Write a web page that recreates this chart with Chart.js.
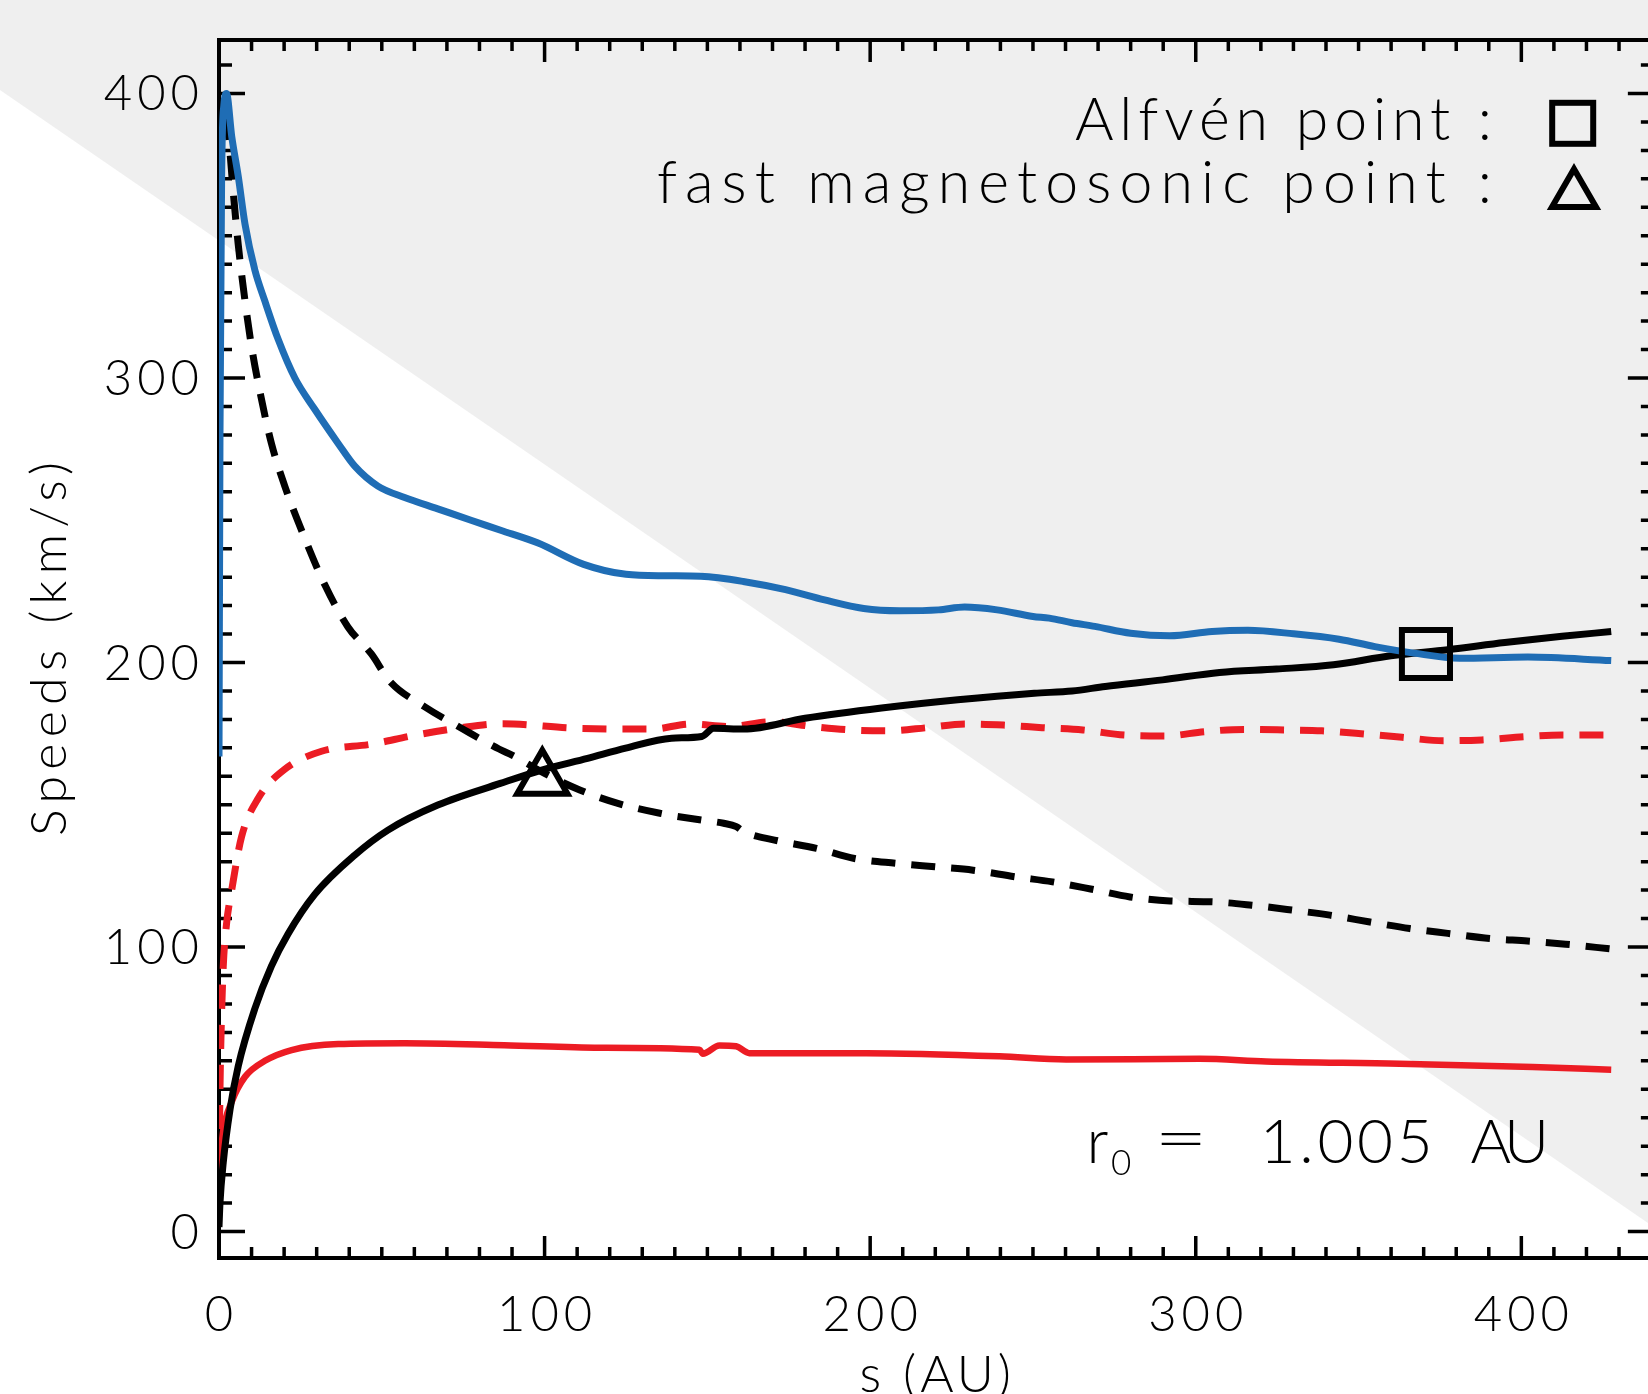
<!DOCTYPE html>
<html>
<head>
<meta charset="utf-8">
<script src="https://cdn.jsdelivr.net/npm/chart.js@4/dist/chart.umd.min.js"></script>
<style>
  html, body { margin: 0; padding: 0; background: #ffffff; overflow: hidden; }
  canvas { display: block; }
</style>
</head>
<body>
<canvas id="c" width="1648" height="1394"></canvas>
<script>
// ---------------- data ----------------
const xTickValues = [0, 100, 200, 300, 400];
const yTickValues = [0, 100, 200, 300, 400];

// blue solid
const blueS = [0, 0.3, 0.8, 1.5, 2.3, 3.9, 5.9, 8.0, 11.0, 14.1, 18.2, 23.3, 29.4, 36.6, 41.7, 48.8, 57.0, 67.2, 77.4, 86.5, 98, 112, 125, 137, 148, 161, 174, 186, 198, 209, 221, 229, 239, 250, 255, 262, 269, 280, 292, 305, 316, 330, 344, 355, 367, 381, 402, 427.6];
const blueV = [167, 280, 370, 396, 400, 385, 371, 354, 338, 327, 313.5, 300, 289, 277, 269, 262, 258, 254, 250, 246.5, 242, 234.5, 231, 230.5, 230.3, 228.5, 225.6, 222, 219, 218.2, 218.5, 219.5, 218.5, 216.2, 215.6, 214, 212.7, 210.3, 209.4, 210.9, 211.3, 210.1, 208.2, 205.6, 203.3, 201.5, 201.9, 200.7];

// black solid
const blackS = [0, 0.3, 1.3, 3.4, 5.9, 11.0, 16.1, 21.2, 29.4, 41.7, 51.9, 67.2, 86.4, 99.1, 113.2, 124.9, 139, 148.3, 151.9, 161.2, 180, 203.5, 226.9, 250.4, 262, 272.2, 289.8, 307.3, 324.8, 342.3, 359.9, 377.4, 394.9, 412.5, 427.6];
const blackV = [1.6, 10, 24.2, 43, 58.1, 78.3, 93.3, 104.6, 118.5, 132.3, 141.1, 149.9, 157.5, 162.2, 166.3, 169.9, 173.4, 174, 176.9, 176.6, 180.4, 184, 186.9, 189.2, 190, 191.6, 193.9, 196.5, 197.7, 199.2, 202.4, 204.5, 207, 209.2, 210.9];

// black dashed
const blackDashS = [1.8, 2.9, 4.4, 5.9, 8.0, 10.0, 12.6, 16.1, 20.2, 26.4, 32.5, 39.6, 46.8, 52.4, 63.1, 75.4, 86, 90.3, 100, 110.8, 122.5, 135.4, 148.3, 155, 158.9, 161.2, 170.6, 183.5, 195.2, 208.2, 219.9, 231.6, 244.5, 256, 267.7, 279.8, 292.1, 305, 317.2, 329.5, 341.2, 353.5, 365.7, 377.4, 390.3, 401.9, 413.6, 427.6];
const blackDashV = [392, 385, 365, 347, 327, 311, 295, 277, 262, 243.5, 227.3, 212.5, 203, 193.5, 184.5, 176.3, 169.6, 167.3, 161, 155.2, 150.5, 147, 144.6, 143.5, 142.3, 140.5, 137.6, 134.7, 131.1, 129.4, 128.2, 127, 124.7, 122.9, 120.4, 117.6, 116.2, 115.9, 114.7, 113, 111.2, 108.8, 106.5, 104.8, 103, 102.1, 101, 99.3];

// red dashed
const redDashS = [0, 0.3, 0.6, 1.3, 2.3, 3.9, 6.9, 12.1, 20.2, 31.5, 46.8, 60, 73.3, 87, 109.6, 133, 144.8, 156.6, 169.5, 182.3, 194, 205.8, 217.5, 229.3, 241, 252.8, 265.3, 278.1, 290.9, 302.6, 314.9, 327.2, 338.8, 351.7, 363.4, 376.2, 387.9, 400.8, 412.5, 427.6];
const redDashV = [22, 50, 68, 93, 108, 120, 138.6, 152.4, 162.5, 168.8, 171.3, 174.4, 176.9, 178.5, 176.9, 176.6, 178.4, 177.5, 179.2, 177.5, 176.3, 176, 177.1, 178.4, 178, 177.1, 176.3, 174.5, 174.2, 175.7, 176.5, 176.3, 176, 174.9, 173.7, 172.5, 172.8, 173.9, 174.5, 174.5];

// red solid
const redS = [0, 1.3, 3.9, 8.0, 14.1, 22.3, 36.6, 57, 87.6, 116.9, 147.6, 148.6, 153.7, 158.8, 162.9, 198.8, 239.7, 260.2, 301.2, 321.6, 362.6, 403.5, 427.6];
const redV = [21.7, 35.5, 45.6, 54.4, 60, 63.8, 65.9, 66.2, 65.5, 64.6, 63.9, 62.5, 65.4, 65.1, 62.7, 62.7, 61.6, 60.5, 60.7, 59.8, 59, 57.8, 56.9];

// critical points
const alfvenS = [370.7];
const alfvenV = [203];
const fastS = [99.3];
const fastV = [159];

// axis extent (the right-hand axis lies just beyond the picture edge)
const xMin = 0, xMax = 438.9, xFrameMax = 440.7;
const yMin = -9.3, yMax = 418.8;

// texts
const xTitle = 's (AU)';
const yTitle = 'Speeds (km/s)';
const legendLines = ['Alfvén point :', 'fast magnetosonic point :'];
const r0Value = '1.005';
const r0Unit = 'AU';

// ---------------- chart ----------------
const W = 1648, H = 1394;
const FONT = 'Lato, "DejaVu Sans", sans-serif';
const BLUE = '#1f6db5';
const RED = '#ec1c24';

function pts(xs, ys) { return xs.map((x, i) => ({ x: x, y: ys[i] })); }

function spacedWidth(ctx, text, ls) {
  const canLS = ('letterSpacing' in ctx);
  if (canLS) ctx.letterSpacing = '0px';
  return ctx.measureText(text).width + (text.length - 1) * ls;
}

function drawSpaced(ctx, text, left, y, ls) {
  const canLS = ('letterSpacing' in ctx);
  ctx.textAlign = 'left';
  if (canLS) {
    ctx.letterSpacing = ls + 'px';
    ctx.fillText(text, left, y);
    ctx.letterSpacing = '0px';
  } else {
    let x = left;
    for (const ch of text) { ctx.fillText(ch, x, y); x += ctx.measureText(ch).width + ls; }
  }
}

function fitText(ctx, text, x, y, targetW, align) {
  const canLS = ('letterSpacing' in ctx);
  if (canLS) ctx.letterSpacing = '0px';
  const w0 = ctx.measureText(text).width;
  const n = text.length;
  const left = align === 'right' ? x - targetW : (align === 'center' ? x - targetW / 2 : x);
  ctx.textAlign = 'left';
  if (canLS && n > 1) {
    drawSpaced(ctx, text, left, y, (targetW - w0) / (n - 1));
  } else {
    ctx.save();
    ctx.translate(left, y);
    ctx.scale(targetW / w0, 1);
    ctx.fillText(text, 0, 0);
    ctx.restore();
  }
}

const decor = {
  id: 'decor',
  beforeDraw(chart) {
    const c = chart.ctx;
    c.save();
    c.fillStyle = '#efefef';
    c.fillRect(0, 0, W, H);
    c.fillStyle = '#ffffff';
    c.beginPath();
    c.moveTo(0, 90);
    c.lineTo(W, 1223);
    c.lineTo(W, H);
    c.lineTo(0, H);
    c.closePath();
    c.fill();
    c.restore();
  },
  beforeDatasetsDraw(chart) {
    const c = chart.ctx;
    const xs = chart.scales.x, ys = chart.scales.y;
    const xL = xs.getPixelForValue(xMin), xR = xs.getPixelForValue(xFrameMax);
    const yB = ys.getPixelForValue(yMin), yT = ys.getPixelForValue(yMax);
    c.save();
    c.strokeStyle = '#000';
    c.lineCap = 'butt';
    // ticks
    c.lineWidth = 3.5;
    c.beginPath();
    for (let v = 0; v <= xFrameMax; v += 10) {
      const px = xs.getPixelForValue(v);
      const len = (v % 100 === 0) ? 22 : 11;
      c.moveTo(px, yB); c.lineTo(px, yB - len);
      c.moveTo(px, yT); c.lineTo(px, yT + len);
    }
    for (let v = 0; v <= yMax; v += 10) {
      const py = ys.getPixelForValue(v);
      const len = (v % 100 === 0) ? 26 : 13;
      c.moveTo(xL, py); c.lineTo(xL + len, py);
      c.moveTo(xR, py); c.lineTo(xR - len, py);
    }
    c.stroke();
    // frame
    c.lineWidth = 4;
    c.strokeRect(xL, yT, xR - xL, yB - yT);
    c.restore();

    // tick labels
    c.save();
    c.fillStyle = '#000';
    c.textBaseline = 'alphabetic';
    c.font = '300 49px ' + FONT;
    const LS = 5;
    for (const v of xTickValues) {
      const t = String(v);
      const w = spacedWidth(c, t, LS);
      drawSpaced(c, t, xs.getPixelForValue(v) - w / 2, 1331, LS);
    }
    for (const v of yTickValues) {
      const t = String(v);
      const w = spacedWidth(c, t, LS);
      drawSpaced(c, t, 199 - w, ys.getPixelForValue(v) + 17, LS);
    }
    c.restore();
  },
  afterDraw(chart) {
    const c = chart.ctx;
    c.save();
    c.fillStyle = '#000';
    c.textBaseline = 'alphabetic';
    // legend text
    c.font = '300 59px ' + FONT;
    fitText(c, legendLines[0], 1492, 140, 417, 'right');
    fitText(c, legendLines[1], 1492, 203, 835, 'right');
    // legend markers
    c.strokeStyle = '#000';
    c.lineWidth = 6;
    c.strokeRect(1572.7 - 20.5, 123.3 - 20.5, 41, 41);
    const tr = 25.4, tcx = 1574, tcy = 194.4;
    c.beginPath();
    c.moveTo(tcx, tcy - tr);
    c.lineTo(tcx + tr * Math.sin(2 * Math.PI / 3), tcy + tr / 2);
    c.lineTo(tcx - tr * Math.sin(2 * Math.PI / 3), tcy + tr / 2);
    c.closePath();
    c.stroke();
    // r0 annotation
    c.font = '300 62px ' + FONT;
    c.textAlign = 'left';
    c.fillText('r', 1086.6, 1163.3);
    c.font = '300 35px ' + FONT;
    c.fillText('0', 1111, 1175);
    c.font = '300 62px ' + FONT;
    fitText(c, '=', 1154, 1160, 54, 'left');
    fitText(c, r0Value, 1259.7, 1163.3, 173, 'left');
    fitText(c, r0Unit, 1470.6, 1163.3, 78.5, 'left');
    // axis titles
    c.font = '300 51px ' + FONT;
    fitText(c, xTitle, 859.5, 1391.7, 151.5, 'left');
    c.save();
    c.translate(66, 649);
    c.rotate(-Math.PI / 2);
    c.font = '300 50px ' + FONT;
    fitText(c, yTitle, 0, 0, 374, 'center');
    c.restore();
    c.restore();
  }
};

new Chart(document.getElementById('c'), {
  type: 'line',
  data: {
    datasets: [
      { label: 'Alfvén point', data: pts(alfvenS, alfvenV), showLine: false, pointStyle: 'rect',
        pointRadius: 34, pointBorderWidth: 6, pointBorderColor: '#000', pointBackgroundColor: 'rgba(0,0,0,0)', clip: false },
      { label: 'fast magnetosonic point', data: pts(fastS, fastV), showLine: false, pointStyle: 'triangle',
        pointRadius: 29, pointBorderWidth: 6, pointBorderColor: '#000', pointBackgroundColor: 'rgba(0,0,0,0)', clip: false },
      { label: 'blue', data: pts(blueS, blueV), borderColor: BLUE, borderWidth: 7, pointRadius: 0, cubicInterpolationMode: 'monotone', fill: false },
      { label: 'black', data: pts(blackS, blackV), borderColor: '#000', borderWidth: 7, pointRadius: 0, cubicInterpolationMode: 'monotone', fill: false },
      { label: 'black dashed', data: pts(blackDashS, blackDashV), borderColor: '#000', borderWidth: 7, borderDash: [24, 16], pointRadius: 0, cubicInterpolationMode: 'monotone', fill: false },
      { label: 'red dashed', data: pts(redDashS, redDashV), borderColor: RED, borderWidth: 7, borderDash: [24, 16], pointRadius: 0, cubicInterpolationMode: 'monotone', fill: false },
      { label: 'red', data: pts(redS, redV), borderColor: RED, borderWidth: 6.5, pointRadius: 0, cubicInterpolationMode: 'monotone', fill: false }
    ]
  },
  options: {
    responsive: false,
    animation: false,
    devicePixelRatio: 1,
    layout: { autoPadding: false, padding: { top: 40, right: 0, left: 219, bottom: 136 } },
    plugins: { legend: { display: false }, tooltip: { enabled: false } },
    scales: {
      x: { type: 'linear', display: false, min: xMin, max: xMax },
      y: { type: 'linear', display: false, min: yMin, max: yMax }
    }
  },
  plugins: [decor]
});
</script>
</body>
</html>
